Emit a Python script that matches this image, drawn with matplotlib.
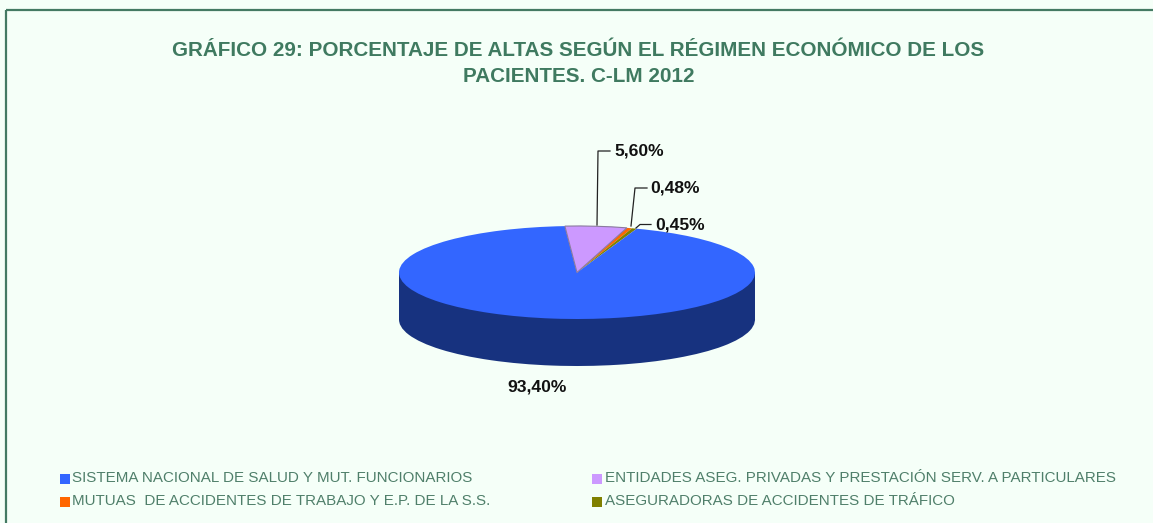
"""Pie chart of hospital discharges by payment regime."""

import matplotlib

matplotlib.use("Agg")
import matplotlib.pyplot as plt
from matplotlib.patches import Rectangle

plt.rcParams["font.family"] = ["Liberation Sans", "DejaVu Sans"]

W, H = 1153, 523
TITLE = "GRÁFICO 29: PORCENTAJE DE ALTAS SEGÚN EL RÉGIMEN ECONÓMICO DE LOS\nPACIENTES. C-LM 2012"
categories = [
    "SISTEMA NACIONAL DE SALUD Y MUT. FUNCIONARIOS",
    "ENTIDADES ASEG. PRIVADAS Y PRESTACIÓN SERV. A PARTICULARES",
    "MUTUAS  DE ACCIDENTES DE TRABAJO Y E.P. DE LA S.S.",
    "ASEGURADORAS DE ACCIDENTES DE TRÁFICO",
]
values = [93.40, 5.60, 0.48, 0.45]
value_labels = ["93,40%", "5,60%", "0,48%", "0,45%"]

colors = ["#3366FF", "#CC99FF", "#FF6600", "#808000"]
WALL = "#17327F"
BG = "#F5FFF8"
GREEN = "#447A63"
TITLE_GREEN = "#3F7A60"
TEXT_GREEN = "#4F7F6A"

fig = plt.figure(figsize=(W / 100, H / 100), dpi=100, facecolor=BG)

# full-figure axes in pixel coordinates for frame, text and legend
over = fig.add_axes([0, 0, 1, 1], zorder=3)
over.set_xlim(0, W)
over.set_ylim(H, 0)
over.axis("off")
over.patch.set_alpha(0)

# squashed pie: top ellipse 399-755 x 226-319, wall down to y=366
pie_ax = fig.add_axes([399 / W, (H - 366) / H, 356 / W, 140 / H], zorder=2)
start = 93.9
order = [values[1], values[2], values[3], 100 - sum(values[1:])]
order_top = [colors[1], colors[2], colors[3], colors[0]]
depth = 47 / 46.5
pie_ax.pie(order, radius=1, center=(0, -depth), startangle=start, counterclock=False,
           colors=[WALL] * 4, wedgeprops={"linewidth": 0})
pie_ax.add_patch(Rectangle((-1, -depth), 2, depth, facecolor=WALL, linewidth=0))
wedges, _ = pie_ax.pie(order, radius=1, startangle=start, counterclock=False,
                       colors=order_top, wedgeprops={"linewidth": 0})
wedges[0].set_edgecolor("#8A7A9E")
wedges[0].set_linewidth(0.8)
wedges[0].set_zorder(5)
pie_ax.set_aspect("auto")
pie_ax.set_xlim(-1, 1)
pie_ax.set_ylim(-1 - depth, 1)
pie_ax.axis("off")

# frame
over.plot([5.5, 5.5], [H, 10], color=GREEN, lw=1.6, solid_capstyle="butt")
over.plot([5.5, W], [10, 10], color=GREEN, lw=1.6, solid_capstyle="butt")

over.text(578.5, 63.5, TITLE, ha="center", va="center", fontsize=14.9, fontweight="bold",
          color=TITLE_GREEN, linespacing=1.5)

# value labels and leader lines
label_pos = [(507, 387), (614, 151), (650, 188), (655, 225)]
for lab, (x, y) in zip(value_labels, label_pos):
    over.text(x, y, lab, ha="left", va="center", fontsize=12.6, fontweight="bold", color="#111111")
leaders = [
    ([597, 598, 610], [225, 151, 151]),
    ([631, 635, 647], [226, 188, 188]),
    ([636, 640, 651], [228, 224.5, 224.5]),
]
for xs, ys in leaders:
    over.plot(xs, ys, color="#222222", lw=0.9)

# legend
legend_pos = [(59.5, 479), (592, 479), (59.5, 502), (592, 502)]
for name, col, (x, y) in zip(categories, colors, legend_pos):
    over.add_patch(Rectangle((x, y - 5), 10, 10, facecolor=col, linewidth=0))
    over.text(x + 13, y - 1, name, ha="left", va="center", fontsize=10.9, color=TEXT_GREEN)

fig.savefig("out.png", dpi=100, facecolor=fig.get_facecolor())
plt.close(fig)
